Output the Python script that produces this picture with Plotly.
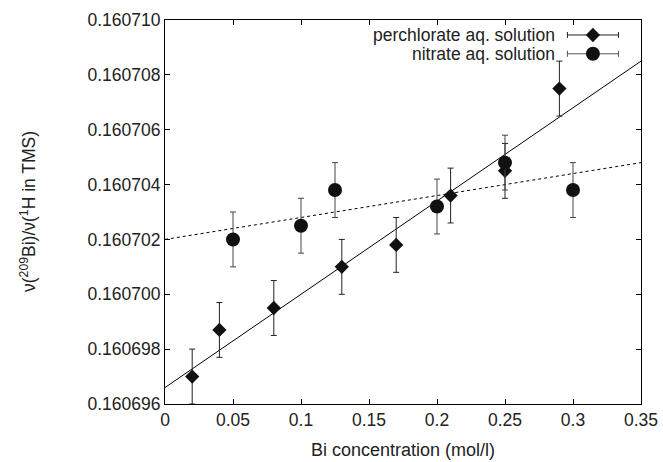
import plotly.graph_objects as go

# Data
perc_x = [0.02, 0.04, 0.08, 0.13, 0.17, 0.21, 0.25, 0.29]
perc_y = [0.160697, 0.1606987, 0.1606995, 0.160701, 0.1607018, 0.1607036, 0.1607045, 0.1607075]
perc_err = [0.000001] * len(perc_x)

nit_x = [0.05, 0.10, 0.125, 0.20, 0.25, 0.30]
nit_y = [0.160702, 0.1607025, 0.1607038, 0.1607032, 0.1607048, 0.1607038]
nit_err = [0.000001] * len(nit_x)

fit_x = [0.0, 0.35]
perc_fit = [0.1606966, 0.1607085]
nit_fit = [0.160702, 0.1607048]

x_ticks = [0, 0.05, 0.1, 0.15, 0.2, 0.25, 0.3, 0.35]
x_tick_labels = ["0", "0.05", "0.1", "0.15", "0.2", "0.25", "0.3", "0.35"]
y_ticks = [0.160696, 0.160698, 0.160700, 0.160702, 0.160704, 0.160706, 0.160708, 0.160710]

legend_names = ["perchlorate aq. solution", "nitrate aq. solution"]

FONT = "Liberation Sans, Arial, sans-serif"
TXT = "#222222"

fig = go.Figure()

fig.add_trace(go.Scatter(x=fit_x, y=perc_fit, mode="lines",
                         line=dict(color="black", width=1), showlegend=False, hoverinfo="skip"))
fig.add_trace(go.Scatter(x=fit_x, y=nit_fit, mode="lines",
                         line=dict(color="black", width=1, dash="dot"), showlegend=False, hoverinfo="skip"))

fig.add_trace(go.Scatter(
    x=perc_x, y=perc_y, mode="markers",
    marker=dict(symbol="diamond", size=11, color="#111111"),
    error_y=dict(type="data", array=perc_err, visible=True, color="#222222", thickness=1, width=3),
    showlegend=False))
fig.add_trace(go.Scatter(
    x=nit_x, y=nit_y, mode="markers",
    marker=dict(symbol="circle", size=14, color="#111111"),
    error_y=dict(type="data", array=nit_err, visible=True, color="#444444", thickness=1, width=3),
    showlegend=False))

# custom legend (gnuplot style: text on left, sample on right)
leg_y = [0.961, 0.912]
leg_sym = ["diamond", "circle"]
leg_size = [11, 14]
leg_col = ["#222222", "#555555"]
for name, yy, sym, sz, col in zip(legend_names, leg_y, leg_sym, leg_size, leg_col):
    fig.add_trace(go.Scatter(
        x=[0.899], y=[yy], xaxis="x2", yaxis="y2", mode="markers",
        marker=dict(symbol=sym, size=sz, color="#111111"),
        error_x=dict(type="constant", value=0.0536, visible=True, color=col, thickness=1, width=3),
        showlegend=False, hoverinfo="skip"))
    fig.add_annotation(x=0.8235, y=yy, xref="paper", yref="paper", text=name,
                       showarrow=False, xanchor="right", yanchor="middle",
                       font=dict(family=FONT, size=17.5, color=TXT))

axis_common = dict(showline=True, linecolor="black", linewidth=1, mirror="ticks",
                   ticks="inside", ticklen=5, tickcolor="black", showgrid=False, zeroline=False,
                   automargin=False,
                   tickfont=dict(family=FONT, size=17.5, color=TXT))

fig.update_layout(
    width=663, height=462,
    margin=dict(l=165, r=22, t=20, b=58),
    paper_bgcolor="white", plot_bgcolor="white",
    xaxis=dict(range=[0, 0.35], tickvals=x_ticks, ticktext=x_tick_labels,
               **axis_common),
    yaxis=dict(range=[0.160696, 0.160710], tickvals=y_ticks, tickformat=".6f",
               **axis_common),
    xaxis2=dict(range=[0, 1], overlaying="x", visible=False, fixedrange=True),
    yaxis2=dict(range=[0, 1], overlaying="y", visible=False, fixedrange=True),
)

# axis titles
fig.add_annotation(x=0.5, y=(404 - 450) / 384, xref="paper", yref="paper",
                   text="Bi concentration (mol/l)",
                   showarrow=False, xanchor="center", yanchor="middle",
                   font=dict(family=FONT, size=18, color=TXT))
fig.add_annotation(x=(28 - 165) / 476, y=0.5, xref="paper", yref="paper",
                   text="ν(<sup>209</sup>Bi)/ν(<sup>1</sup>H in TMS)",
                   showarrow=False, xanchor="center", yanchor="middle", textangle=-90,
                   font=dict(family=FONT, size=17.5, color=TXT))

fig.write_html("out.html", config={"displayModeBar": False},
               post_script="document.body.style.margin='0';document.body.style.overflow='hidden';")
